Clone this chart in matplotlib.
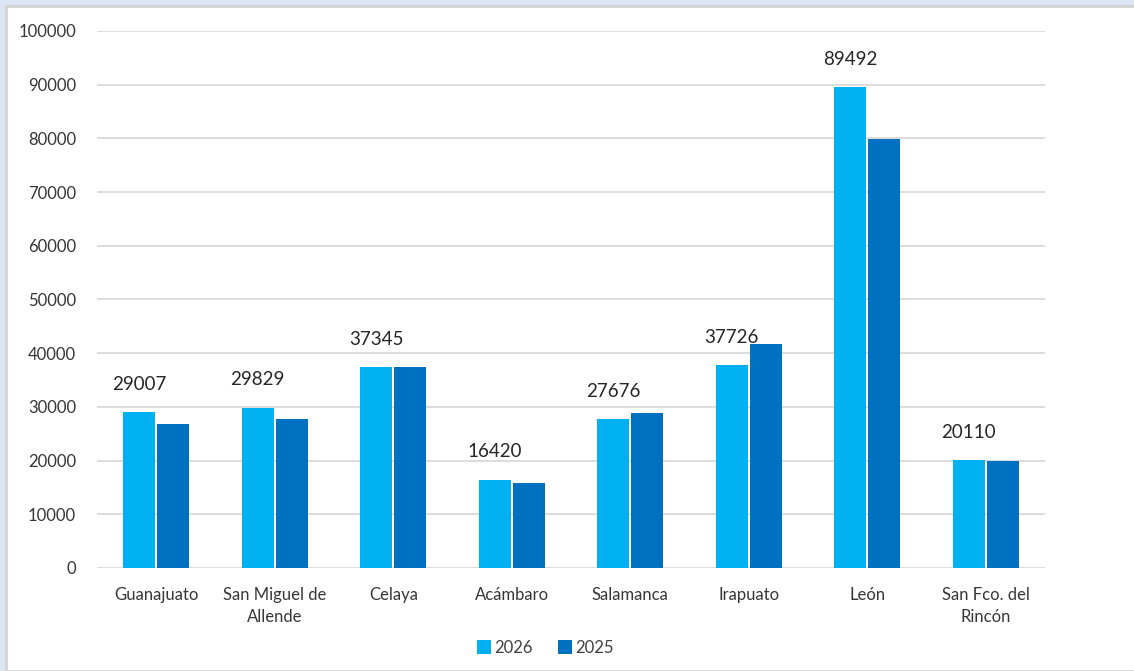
import numpy as np
import matplotlib.pyplot as plt
from matplotlib.patches import Rectangle

plt.rcParams['font.family'] = ['Lato', 'DejaVu Sans']

ciudades = ["Guanajuato", "San Miguel de\nAllende", "Celaya", "Acámbaro",
            "Salamanca", "Irapuato", "León", "San Fco. del\nRincón"]
v2026 = [29007, 29829, 37345, 16420, 27676, 37726, 89492, 20110]
v2025 = [26900, 27800, 37400, 15800, 28800, 41700, 79900, 19950]
series = ["2026", "2025"]
colores = ["#00B0F0", "#0070C0"]

fig = plt.figure(figsize=(11.34, 6.71), dpi=100)
fig.patch.set_facecolor("#DCE6F4")
# white chart area with thin grey frame, like the screenshot
fig.patches.append(Rectangle((6 / 1134, 0), 1, 1 - 6 / 671, transform=fig.transFigure,
                             facecolor="white", edgecolor="#D4D4D4", linewidth=2, zorder=-10))

ax = fig.add_axes([97 / 1134, 1 - 568 / 671, 948 / 1134, 537 / 671])
ax.set_facecolor("none")
ax.set_zorder(2)

x = np.arange(len(ciudades))
w = 0.27
off = 0.145
b1 = ax.bar(x - off, v2026, w, color=colores[0], label=series[0], zorder=3)
b2 = ax.bar(x + off, v2025, w, color=colores[1], label=series[1], zorder=3)

for xi, v in zip(x, v2026):
    ax.annotate(str(v), (xi - off, v), xytext=(0, 14), textcoords="offset points",
                ha="center", va="bottom", fontsize=13.5, color="#262626")

ax.set_xlim(-0.5, len(ciudades) - 0.5)
ax.set_ylim(0, 100000)
ax.set_yticks(np.arange(0, 100001, 10000))
ax.set_yticklabels([str(t) for t in range(0, 100001, 10000)])
ax.set_xticks(x)
ax.set_xticklabels(ciudades, linespacing=1.45)
ax.tick_params(axis="both", length=0, labelsize=12, labelcolor="#363636")
ax.tick_params(axis="y", pad=15)
ax.tick_params(axis="x", pad=14)
ax.grid(axis="y", color="#D9D9D9", linewidth=1.3, zorder=0)
for s in ax.spines.values():
    s.set_visible(False)

fig.legend(handles=[b1, b2], labels=series, loc="center", bbox_to_anchor=(545 / 1134, 1 - 648 / 671),
           ncol=2, frameon=False, fontsize=12, handlelength=0.85, handleheight=0.9,
           handletextpad=0.2, columnspacing=1.5, labelcolor="#404040")

fig.savefig("out.png", dpi=100)
